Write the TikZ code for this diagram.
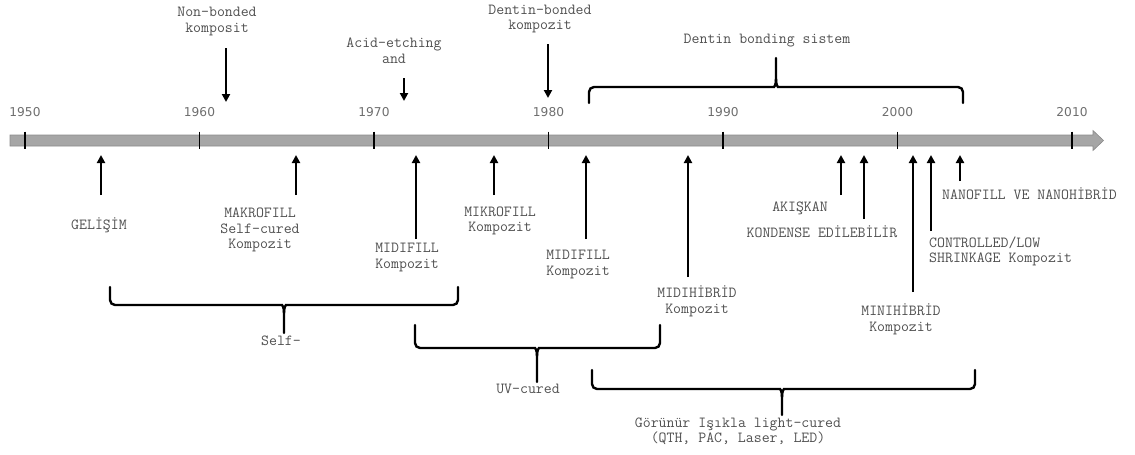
\documentclass[tikz,border=0pt]{standalone}
\usepackage{fontspec}
\newfontfamily\yearfont{DejaVu Sans}
\usetikzlibrary{arrows.meta}
\definecolor{txt}{HTML}{505050}
\definecolor{yrc}{HTML}{6E6E6E}
\definecolor{barfill}{HTML}{A6A6A6}
\definecolor{barline}{HTML}{8A8A8A}
\newcommand\mybrack[7]{%
  \draw[brk] (#1,#3) [rounded corners=5pt] -- (#1,#4) -- (#5-7,#4) [sharp corners]
     .. controls (#5-2,#4) and (#5,#4+1.5*#7) .. (#5,#4+8*#7) -- (#5,#6);
  \draw[brk] (#2,#3) [rounded corners=5pt] -- (#2,#4) -- (#5+7,#4) [sharp corners]
     .. controls (#5+2,#4) and (#5,#4+1.5*#7) .. (#5,#4+8*#7);}
\begin{document}
\begin{tikzpicture}[x=1pt,y=-1pt,
  lab/.style={font=\ttfamily\fontsize{15.4}{15.5}\selectfont, text=txt, inner sep=0pt, align=center},
  labl/.style={lab, align=left, anchor=west},
  yr/.style={font=\yearfont\fontsize{12.2}{14}\selectfont, text=yrc, inner sep=0pt},
  arr/.style={line width=2.4pt, -{Triangle[width=8pt,length=8pt]}},
  brk/.style={line width=2.4pt, line cap=round},
  tick/.style={line width=1.4pt, black}]
\useasboundingbox (0,0) rectangle (1135,455);
% time axis
\fill[barfill, draw=barline, line width=0.6pt] (10,135) -- (1093,135) -- (1093,130.5) -- (1103.5,140.5)
  -- (1093,150.5) -- (1093,146) -- (10,146) -- cycle;
\foreach \yy in {1950,1960,1970,1980,1990,2000,2010}{
  \pgfmathsetmacro\xx{25+17.45*(\yy-1950)}
  \draw[tick] (\xx,131.5) -- (\xx,149);
  \node[yr] (y\yy) at (\xx,112) {\yy};
}
% top labels
\node[lab] (nonb) at (217,21.5) {Non-bonded\\komposit};
\node[lab] (acid) at (394,50.5) {Acid-etching\\and};
\node[lab] (dbk) at (540,19) {Dentin-bonded\\kompozit};
\node[lab] (dbs) at (767,41) {Dentin bonding sistem};
\coordinate (nonb-t) at (226,48); \coordinate (nonb-h) at (226,102);
\coordinate (acid-t) at (404,78); \coordinate (acid-h) at (404,101);
\coordinate (dbk-t) at (548,44); \coordinate (dbk-h) at (548,98);
\draw[arr] (nonb-t) -- (nonb-h);
\draw[arr] (acid-t) -- (acid-h);
\draw[arr] (dbk-t) -- (dbk-h);
\mybrack{589}{963}{103}{87}{776}{58}{-1}
% bottom labels
\node[lab] (gel) at (99,225) {GELİŞİM};
\node[lab] (makro) at (260,230) {MAKROFILL\\Self-cured\\Kompozit};
\node[lab] (midi1) at (407,257.5) {MIDIFILL\\Kompozit};
\node[lab] (mikro) at (500,221) {MIKROFILL\\Kompozit};
\node[lab] (midi2) at (578,264.5) {MIDIFILL\\Kompozit};
\node[lab] (midih) at (697,301.5) {MIDIHİBRİD\\Kompozit};
\node[lab] (aki) at (800,208) {AKIŞKAN};
\node[lab] (kond) at (822,232) {KONDENSE EDİLEBİLİR};
\node[lab] (minih) at (901,319.5) {MINIHİBRİD\\Kompozit};
\node[labl] (ctrl) at (929,251.5) {CONTROLLED/LOW\\SHRINKAGE Kompozit};
\node[labl] (nano) at (942,194) {NANOFILL VE NANOHİBRİD};
% arrows up to the axis
\foreach \n/\x/\t in {gel/101/195, makro/296/195, midi1/416/239, mikro/494/195, midi2/586/239,
   midih/688/277, aki/841/195, kond/864/219, minih/913/292, ctrl/931/231, nano/960/181}{
  \coordinate (\n-t) at (\x,\t);
  \coordinate (\n-h) at (\x,155);
  \draw[arr] (\n-t) -- (\n-h);
}
% curing brackets
\mybrack{110}{458}{287}{305}{284}{333}{1}
\node[lab] (self) at (281,341) {Self-};
\mybrack{415}{660}{325}{348}{537}{382}{1}
\node[lab] (uv) at (528,389) {UV-cured};
\mybrack{592}{975}{370}{389}{782}{415}{1}
\node[lab, font=\ttfamily\fontsize{15.4}{13.5}\selectfont] (vis) at (738,431.5) {Görünür Işıkla light-cured\\(QTH, PAC, Laser, LED)};
\end{tikzpicture}
\end{document}
